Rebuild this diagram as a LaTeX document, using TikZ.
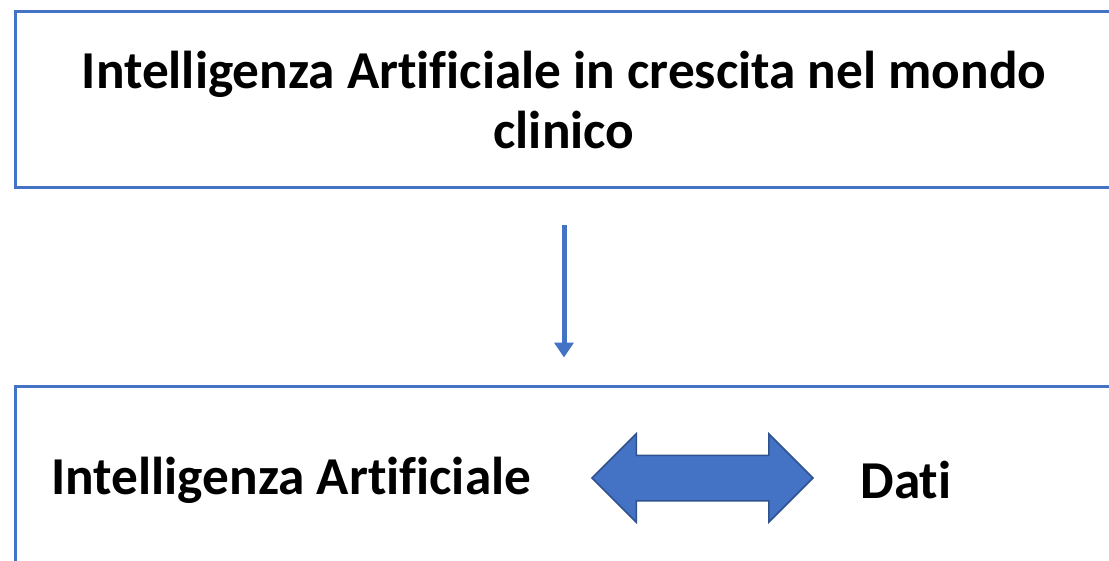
\documentclass[tikz,border=0pt]{standalone}
\usepackage{fontspec}
\setmainfont{Carlito}[Ligatures=NoCommon]
\usetikzlibrary{arrows.meta,shapes.arrows,positioning}
\definecolor{bleu}{HTML}{4472C4}
\definecolor{bleufonce}{HTML}{2F528F}

\begin{document}
\begin{tikzpicture}[x=1pt,y=-1pt]
%
% Styles
%
\tikzset{every node/.style={font=\fontsize{53.3}{60}\selectfont\bfseries}};%
\tikzset{boite/.style={draw=bleu, line width=3pt, minimum width=1098pt, align=center, inner sep=0pt}};%
\tikzset{fleche/.style={-{Triangle[length=15pt,width=19pt]}, bleu, line width=5pt}};%
\tikzset{double fleche/.style={double arrow, draw=bleufonce, fill=bleu, line width=1.5pt,%
        double arrow tip angle=90, double arrow head extend=21.5pt,%
        text height=22pt, text depth=22pt, text width=0pt,%
        minimum height=221pt, minimum width=87pt, inner sep=0pt}};%

%
% Macros
%
\pgfmathsetmacro{\xc}{564}%
\pgfmathsetmacro{\ytitre}{99.5}%
\pgfmathsetmacro{\ybas}{476}%

\useasboundingbox (0,0) rectangle (1109,560);%
\clip (0,0) rectangle (1109,560);%

%
% Boxes
%
\node[boite, minimum height=176pt] (titre) at (\xc,\ytitre)
    {Intelligenza Artificiale in crescita nel mondo\\clinico};%
\node[boite, minimum height=180pt] (bas) at (\xc,\ybas) {};%

% The arrow between the two boxes
\draw[fleche] ([yshift=-36pt]titre.south) -- ([yshift=27pt]bas.north);%

% The bottom line
\node[anchor=west] (ia) at (48,480) {Intelligenza Artificiale};%
\node (dati) at (906,480) {Dati};%
\node[double fleche] (lien) at (702.5,478) {};%
\end{tikzpicture}
\end{document}
